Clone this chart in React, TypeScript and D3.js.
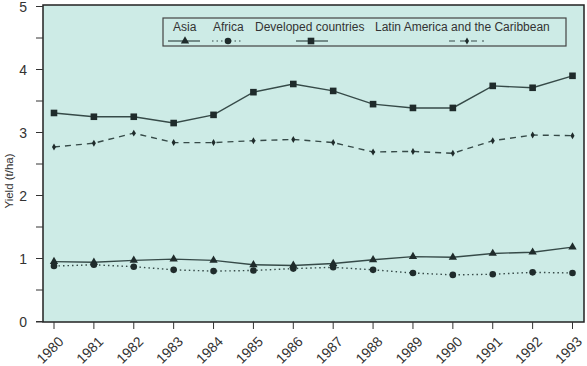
import { useEffect, useRef } from "react";
import * as d3 from "d3";

const years = [1980, 1981, 1982, 1983, 1984, 1985, 1986, 1987, 1988, 1989, 1990, 1991, 1992, 1993];
const asia = [0.95, 0.94, 0.97, 0.99, 0.97, 0.9, 0.89, 0.92, 0.98, 1.03, 1.02, 1.08, 1.1, 1.18];
const africa = [0.88, 0.9, 0.87, 0.82, 0.8, 0.81, 0.84, 0.86, 0.82, 0.77, 0.74, 0.75, 0.78, 0.77];
const developed = [3.31, 3.25, 3.25, 3.15, 3.28, 3.64, 3.77, 3.66, 3.45, 3.39, 3.39, 3.74, 3.71, 3.9];
const latin = [2.77, 2.83, 2.99, 2.84, 2.84, 2.87, 2.89, 2.84, 2.69, 2.7, 2.67, 2.87, 2.96, 2.95];
const yTicks = [0, 1, 2, 3, 4, 5];
const seriesNames = ["Asia", "Africa", "Developed countries", "Latin America and the Caribbean"];

const W = 587;
const H = 366;
const BG = "#cdebe6";
const LINE = "#364a48";
const MARK = "#1f2b2b";
const FONT = "Liberation Sans, Arial, Helvetica, sans-serif";

export default function App() {
    const svgRef = useRef(null);

    useEffect(() => {
        const svg = d3.select(svgRef.current);
        svg.selectAll("*").remove();

        const x = d3.scaleLinear().domain([1980, 1993]).range([54, 572.5]);
        const y = d3.scaleLinear().domain([0, 5]).range([321.5, 6.5]);

        // plot box
        svg.append("rect")
            .attr("x", 43).attr("y", 5)
            .attr("width", 541).attr("height", 317)
            .attr("fill", BG)
            .attr("stroke", "#222").attr("stroke-width", 1.5);

        // y axis ticks (major + half steps)
        const yMinor = d3.range(0, 5.01, 0.5);
        svg.selectAll("line.yt")
            .data(yMinor)
            .enter().append("line")
            .attr("x1", 36).attr("x2", 43)
            .attr("y1", d => y(d)).attr("y2", d => y(d))
            .attr("stroke", "#333").attr("stroke-width", 1);

        svg.selectAll("text.yl")
            .data(yTicks)
            .enter().append("text")
            .attr("x", 27).attr("y", d => y(d))
            .attr("dy", "0.36em")
            .attr("text-anchor", "end")
            .attr("font-family", FONT).attr("font-size", 14)
            .attr("fill", "#333")
            .text(d => d);

        svg.append("line")
            .attr("x1", 36).attr("x2", 43)
            .attr("y1", 322).attr("y2", 322)
            .attr("stroke", "#333");

        // x ticks
        svg.selectAll("line.xt")
            .data(years)
            .enter().append("line")
            .attr("x1", d => x(d)).attr("x2", d => x(d))
            .attr("y1", 322).attr("y2", 329)
            .attr("stroke", "#333");

        svg.selectAll("text.xl")
            .data(years)
            .enter().append("text")
            .attr("transform", d => `translate(${x(d) + 7},${339}) rotate(-45)`)
            .attr("text-anchor", "end")
            .attr("dy", "0.35em")
            .attr("font-family", FONT).attr("font-size", 14)
            .attr("fill", "#333")
            .text(d => d);

        // y label
        svg.append("text")
            .attr("transform", `translate(13,181) rotate(-90)`)
            .attr("text-anchor", "middle")
            .attr("font-family", FONT).attr("font-size", 11.5)
            .attr("fill", "#333")
            .text("Yield (t/ha)");

        const line = vals => d3.line()(years.map((yr, i) => [x(yr), y(vals[i])]));

        const series = [
            { vals: asia, dash: null, mark: "tri" },
            { vals: africa, dash: "1.5,3", mark: "circ" },
            { vals: developed, dash: null, mark: "sq" },
            { vals: latin, dash: "6,5", mark: "star" },
        ];

        const drawMark = (g, kind, cx, cy) => {
            if (kind === "tri") {
                g.append("path").attr("d", d3.symbol(d3.symbolTriangle, 30)())
                    .attr("transform", `translate(${cx},${cy})`).attr("fill", MARK);
            } else if (kind === "circ") {
                g.append("circle").attr("cx", cx).attr("cy", cy).attr("r", 3.3).attr("fill", MARK);
            } else if (kind === "sq") {
                g.append("rect").attr("x", cx - 3.3).attr("y", cy - 3.3)
                    .attr("width", 6.6).attr("height", 6.6).attr("fill", MARK);
            } else {
                g.append("path").attr("d", d3.symbol(d3.symbolDiamond, 14)())
                    .attr("transform", `translate(${cx},${cy})`).attr("fill", MARK);
            }
        };

        series.forEach(s => {
            const g = svg.append("g");
            g.append("path")
                .attr("d", line(s.vals))
                .attr("fill", "none")
                .attr("stroke", LINE)
                .attr("stroke-width", 1.4)
                .attr("stroke-dasharray", s.dash);
            years.forEach((yr, i) => drawMark(g, s.mark, x(yr), y(s.vals[i])));
        });

        // legend
        const lg = svg.append("g");
        lg.append("rect")
            .attr("x", 163).attr("y", 18)
            .attr("width", 403).attr("height", 28)
            .attr("fill", BG)
            .attr("stroke", "#444").attr("stroke-width", 1.2);

        const legendPos = [
            { tx: 173, x1: 168, x2: 200, mx: 185 },
            { tx: 213, x1: 212, x2: 243, mx: 228 },
            { tx: 255, x1: 296, x2: 328, mx: 311 },
            { tx: 375, x1: 449, x2: 484, mx: 467 },
        ];
        seriesNames.forEach((name, i) => {
            const p = legendPos[i];
            lg.append("text")
                .attr("x", p.tx).attr("y", 31)
                .attr("font-family", FONT).attr("font-size", 12)
                .attr("fill", "#333")
                .text(name);
            lg.append("line")
                .attr("x1", p.x1).attr("x2", p.x2)
                .attr("y1", 41).attr("y2", 41)
                .attr("stroke", LINE).attr("stroke-width", 1.2)
                .attr("stroke-dasharray", series[i].dash);
            drawMark(lg, series[i].mark, p.mx, 41);
        });
    }, []);

    return (
        <svg ref={svgRef} width={W} height={H}
            style={{ position: "absolute", left: 0, top: 0, background: "#fff" }} />
    );
}
